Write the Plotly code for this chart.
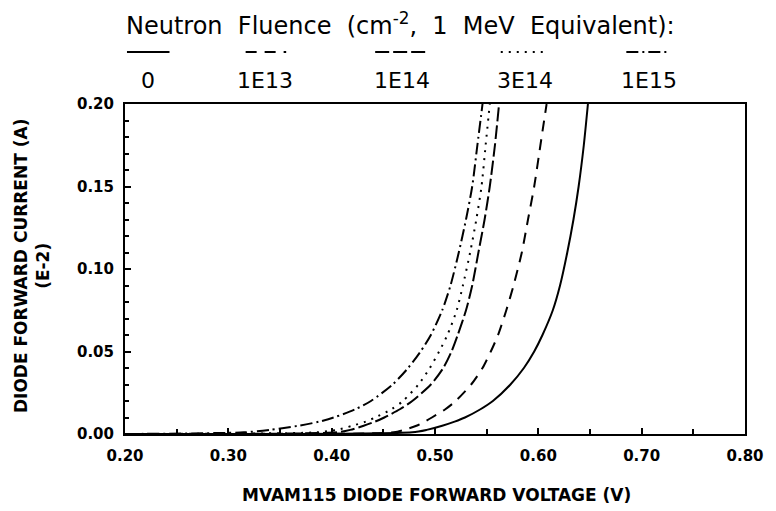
import plotly.graph_objects as go

# Forward current (A, in units of 1E-2) at which each curve is sampled
current = [0, 0.001, 0.0025, 0.005, 0.0075, 0.01, 0.015, 0.02, 0.03, 0.04,
           0.05, 0.06, 0.075, 0.09, 0.11, 0.13, 0.15, 0.175, 0.20]

# Forward voltage (V) at each current, one list per neutron fluence
v_0 = [0.20, 0.478, 0.492, 0.507, 0.519, 0.529, 0.544, 0.556, 0.573, 0.586,
       0.596, 0.604, 0.614, 0.621, 0.628, 0.634, 0.639, 0.644, 0.648]
v_1e13 = [0.20, 0.460, 0.470, 0.482, 0.490, 0.497, 0.510, 0.520, 0.535, 0.546,
          0.554, 0.561, 0.569, 0.576, 0.584, 0.590, 0.596, 0.602, 0.608]
v_1e14 = [0.20, 0.405, 0.418, 0.431, 0.442, 0.451, 0.466, 0.478, 0.496, 0.508,
          0.516, 0.522, 0.530, 0.536, 0.542, 0.548, 0.553, 0.558, 0.562]
v_3e14 = [0.20, 0.385, 0.405, 0.420, 0.433, 0.442, 0.458, 0.469, 0.484, 0.495,
          0.504, 0.512, 0.521, 0.527, 0.534, 0.540, 0.545, 0.549, 0.553]
v_1e15 = [0.20, 0.315, 0.340, 0.368, 0.388, 0.402, 0.423, 0.438, 0.459, 0.474,
          0.486, 0.496, 0.507, 0.515, 0.523, 0.530, 0.536, 0.541, 0.546]

fluence_labels = ["0", "1E13", "1E14", "3E14", "1E15"]
voltages = [v_0, v_1e13, v_1e14, v_3e14, v_1e15]
dashes = ["solid", "11px,8px", "14px,4px", "2px,6px", "12px,4px,2px,4px"]

x_ticks = [0.20, 0.30, 0.40, 0.50, 0.60, 0.70, 0.80]
y_ticks = [0.00, 0.05, 0.10, 0.15, 0.20]

W, H = 776, 511
L, R, T, B = 125, 24, 104, 77
PW, PH = W - L - R, H - T - B


def px(x):
    return (x - L) / PW


def py(y):
    return (H - B - y) / PH


FONT = "DejaVu Sans"
fig = go.Figure()
for v, dash, lab in zip(voltages, dashes, fluence_labels):
    fig.add_trace(go.Scatter(
        x=v, y=current, mode="lines", name=lab,
        line=dict(color="black", width=2, dash=dash, shape="spline", smoothing=0.7),
        showlegend=False, hoverinfo="skip"))

axis_common = dict(showline=True, linecolor="black", linewidth=2, mirror=True,
                   showgrid=False, zeroline=False, ticks="inside", ticklen=6,
                   tickwidth=1.5, tickcolor="black", tickformat=".2f",
                   tickfont=dict(family=FONT, size=15, color="black", weight="bold"))

fig.update_xaxes(range=[0.2, 0.8], tickvals=x_ticks, ticklabelstandoff=7,
                 minor=dict(dtick=0.05, ticks="inside", ticklen=5, tickcolor="black", tickwidth=1.5),
                 **axis_common)
fig.update_yaxes(range=[0, 0.2], tickvals=y_ticks, ticklabelstandoff=6,
                 minor=dict(dtick=0.01, ticks="inside", ticklen=4, tickcolor="black", tickwidth=1.5),
                 **axis_common)

sp = "\u00a0 "
annotations = [
    dict(text="MVAM115 DIODE FORWARD VOLTAGE (V)", x=px(440), y=py(495),
         font=dict(family=FONT, size=17, weight="bold")),
    dict(text="DIODE FORWARD CURRENT (A)<br>(E-2)", x=px(31), y=py(266), textangle=-90,
         font=dict(family=FONT, size=17, weight="bold")),
    dict(text=sp.join(["Neutron", "Fluence", "(cm<sup>-2</sup>,", "1", "MeV", "Equivalent):"]),
         x=px(404), y=py(24), font=dict(family=FONT, size=24)),
]

# Legend: line sample above each fluence label
label_x = [148, 267, 405, 530, 655]
sample_x = [(127, 170), (247, 288), (378, 430), (505, 552), (632, 676)]
shapes = []
for lab, cx, (x0, x1), dash in zip(fluence_labels, label_x, sample_x, dashes):
    annotations.append(dict(text=lab, x=px(cx), y=py(80), font=dict(family=FONT, size=22)))
    shapes.append(dict(type="line", xref="paper", yref="paper", x0=px(x0), x1=px(x1),
                       y0=py(52), y1=py(52), line=dict(color="black", width=2, dash=dash)))

for a in annotations:
    a.update(xref="paper", yref="paper", showarrow=False, xanchor="center", yanchor="middle")
    a["font"]["color"] = "black"

fig.update_layout(width=W, height=H, margin=dict(l=L, r=R, t=T, b=B),
                  paper_bgcolor="white", plot_bgcolor="white",
                  annotations=annotations, shapes=shapes)

fig.write_html("out.html")
